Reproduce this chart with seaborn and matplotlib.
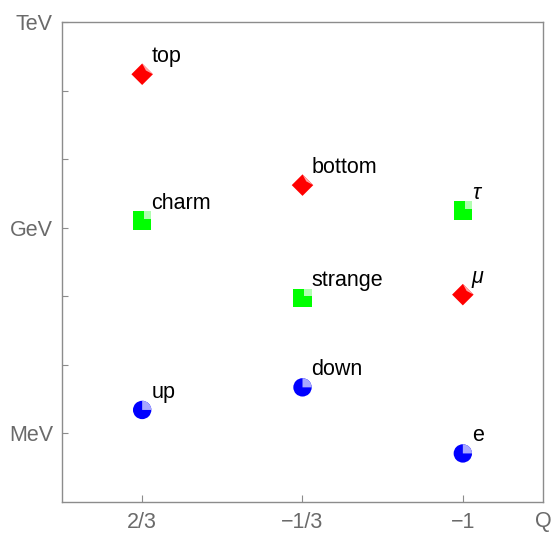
import numpy as np
import pandas as pd
import matplotlib
matplotlib.use("Agg")
import matplotlib.pyplot as plt
from matplotlib.path import Path
from matplotlib.ticker import NullFormatter
import seaborn as sns

# fermion masses in MeV, by charge
particles = ["top", "charm", "up", "bottom", "strange", "down", "τ", "μ", "e"]
charges = ["2/3", "2/3", "2/3", "−1/3", "−1/3", "−1/3", "−1", "−1", "−1"]
masses_mev = [173000, 1270, 2.2, 4180, 95, 4.7, 1777, 105.7, 0.511]
generation = ["III", "II", "I", "III", "II", "I", "II", "III", "I"]
charge_order = ["2/3", "−1/3", "−1"]

df = pd.DataFrame({"particle": particles, "charge": charges,
                   "mass": masses_mev, "gen": generation})

sns.set_theme(style="white")
plt.rcParams["font.family"] = ["Liberation Sans", "DejaVu Sans"]

# marker shapes (Mathematica-like, with a light top-right highlight)
diamond = Path([(0, 1), (1, 0), (0, -1), (-1, 0), (0, 1)],
               [Path.MOVETO, Path.LINETO, Path.LINETO, Path.LINETO, Path.CLOSEPOLY])
diamond_hi = Path([(1, 0), (0, 1), (0.35, 0.35), (1, 0)],
                  [Path.MOVETO, Path.LINETO, Path.LINETO, Path.CLOSEPOLY])
square_hi = Path([(0.2, 0.2), (1, 0.2), (1, 1), (0.2, 1), (0.2, 0.2)],
                 [Path.MOVETO, Path.LINETO, Path.LINETO, Path.LINETO, Path.CLOSEPOLY])
circle_hi = Path.wedge(0, 90)

main_markers = {"III": diamond, "II": "s", "I": "o"}
hi_markers = {"III": diamond_hi, "II": square_hi, "I": circle_hi}
main_colors = {"III": "#ff0000", "II": "#00ff00", "I": "#0000ff"}
hi_colors = {"III": "#ffa8a8", "II": "#b0ffb0", "I": "#a8a8ff"}
marker_sizes = {"III": 240, "II": 175, "I": 175}

fig = plt.figure(figsize=(5.51, 5.34), dpi=100)
ax = fig.add_axes([0.1125, 0.0599, 0.873, 0.8989])

sns.scatterplot(data=df, x="charge", y="mass", hue="gen", style="gen",
                size="gen", sizes=marker_sizes,
                palette=main_colors, markers=main_markers,
                linewidth=0, legend=False, ax=ax, zorder=3)
sns.scatterplot(data=df, x="charge", y="mass", hue="gen", style="gen",
                size="gen", sizes=marker_sizes,
                palette=hi_colors, markers=hi_markers,
                linewidth=0, legend=False, ax=ax, zorder=4)

for _, row in df.iterrows():
    italic = row["particle"] in ("μ", "τ")
    ax.annotate(row["particle"], (charge_order.index(row["charge"]), row["mass"]),
                xytext=(6.5, 8.6), textcoords="offset points",
                ha="left", va="baseline", fontsize=15.5, color="black",
                style="italic" if italic else "normal")

ax.set_yscale("log")
ax.set_ylim(0.1, 1e6)
ax.set_xlim(-0.5, 2.5)
ax.set_yticks([1, 1e3, 1e6], ["MeV", "GeV", "TeV"])
ax.set_yticks([10, 100, 1e4, 1e5], minor=True)
ax.yaxis.set_minor_formatter(NullFormatter())
ax.set_xticks(range(len(charge_order)), charge_order)
ax.set_xlabel("")
ax.set_ylabel("")

gray = "#8c8c8c"
for sp in ax.spines.values():
    sp.set_visible(True)
    sp.set_color(gray)
    sp.set_linewidth(1.0)
ax.tick_params(axis="y", which="both", direction="in", length=4.5, width=0.8,
               color=gray, labelcolor="#6a6a6a", labelsize=15.5, pad=6.5,
               left=True, right=False)
ax.tick_params(axis="x", which="both", direction="in", length=5, width=0.8,
               color=gray, labelcolor="#6a6a6a", labelsize=15.5, pad=7,
               bottom=True, top=False)
# nudge the top label up a little, as in the reference
ax.get_yticklabels()[2].set_va("center_baseline")
ax.text(1.0, -0.04, "Q", transform=ax.transAxes, ha="center", va="center",
        fontsize=15.5, color="#6a6a6a")

fig.savefig("out.png", dpi=100)
